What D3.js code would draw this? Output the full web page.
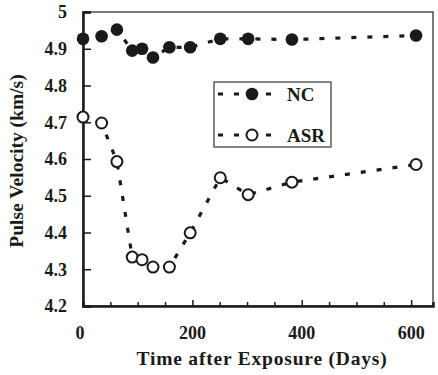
<!DOCTYPE html>
<html>
<head>
<meta charset="utf-8">
<script src="https://cdn.jsdelivr.net/npm/d3@7"></script>
<style>
  body { margin: 0; background: #fff; }
</style>
</head>
<body>
<div id="chart"></div>
<script>
// days after exposure, shared by both series
const days = [0, 34, 62, 90, 108, 128, 158, 196, 251, 302, 382, 609];
const ncValues = [4.927, 4.934, 4.952, 4.895, 4.900, 4.876, 4.904, 4.904, 4.927, 4.927, 4.925, 4.936];
const asrValues = [4.714, 4.698, 4.593, 4.333, 4.326, 4.306, 4.306, 4.399, 4.549, 4.503, 4.537, 4.585];
const xTickLabels = [0, 200, 400, 600];
const yTickLabels = [4.2, 4.3, 4.4, 4.5, 4.6, 4.7, 4.8, 4.9, 5];
const seriesNames = ["NC", "ASR"];

const width = 438, height = 375;
const margin = { top: 12, right: 5, bottom: 69, left: 83 };
const ink = "#1a1a1a";
const serif = "Liberation Serif, Times New Roman, serif";

const svg = d3.select("#chart").append("svg")
  .attr("width", width)
  .attr("height", height)
  .style("font-family", serif)
  .style("font-weight", "bold");

const x = d3.scaleLinear().domain([0, 640]).range([margin.left, width - margin.right]);
const y = d3.scaleLinear().domain([4.2, 5]).range([height - margin.bottom, margin.top]);

// frame: thin top/right, heavy left/bottom
svg.append("rect")
  .attr("x", x(0)).attr("y", y(5))
  .attr("width", x(640) - x(0)).attr("height", y(4.2) - y(5))
  .attr("fill", "none").attr("stroke", "#333").attr("stroke-width", 1.3);

// x axis, ticks every 50 pointing inward
const xAxis = d3.axisTop(x)
  .tickValues(d3.range(50, 640, 50))
  .tickSize(4)
  .tickFormat("");
svg.append("g")
  .attr("transform", `translate(0,${y(4.2)})`)
  .call(xAxis)
  .call(g => g.select(".domain").attr("stroke", ink).attr("stroke-width", 2.5))
  .call(g => g.selectAll(".tick line").attr("stroke", ink).attr("stroke-width", 1.5)
    .attr("y2", d => d % 200 === 0 ? -6 : -4));

// y axis, inward ticks
const yAxis = d3.axisRight(y)
  .tickValues(yTickLabels)
  .tickSize(8)
  .tickFormat("");
svg.append("g")
  .attr("transform", `translate(${x(0)},0)`)
  .call(yAxis)
  .call(g => g.select(".domain").attr("stroke", ink).attr("stroke-width", 2.5))
  .call(g => g.selectAll(".tick line").attr("stroke", ink).attr("stroke-width", 1.5));

// tick labels
svg.append("g").selectAll("text")
  .data(yTickLabels)
  .join("text")
  .attr("x", 67)
  .attr("y", d => y(d))
  .attr("dy", "0.35em")
  .attr("text-anchor", "end")
  .attr("font-size", 18)
  .attr("fill", ink)
  .text(d => d3.format("")(d));

svg.append("g").selectAll("text")
  .data(xTickLabels)
  .join("text")
  .attr("x", d => x(d) - (d === 0 ? 3 : 0))
  .attr("y", 339)
  .attr("text-anchor", "middle")
  .attr("font-size", 18)
  .attr("fill", ink)
  .text(d => d);

// axis titles
svg.append("text")
  .attr("x", 262)
  .attr("y", 365)
  .attr("text-anchor", "middle")
  .attr("font-size", 19.5)
  .attr("letter-spacing", 0.8)
  .attr("fill", ink)
  .text("Time after Exposure (Days)");

svg.append("text")
  .attr("transform", "translate(23,161) rotate(-90)")
  .attr("text-anchor", "middle")
  .attr("font-size", 19.5)
  .attr("fill", ink)
  .text("Pulse Velocity (km/s)");

// series
const series = [
  { name: seriesNames[0], values: ncValues, filled: true },
  { name: seriesNames[1], values: asrValues, filled: false }
];

const line = d3.line()
  .x(d => x(d[0]))
  .y(d => y(d[1]));

series.forEach(s => {
  const pts = days.map((d, i) => [d, s.values[i]]);
  svg.append("path")
    .datum(pts)
    .attr("d", line)
    .attr("fill", "none")
    .attr("stroke", ink)
    .attr("stroke-width", 3.2)
    .attr("stroke-dasharray", "5,11");
  svg.append("g").selectAll("circle")
    .data(pts)
    .join("circle")
    .attr("cx", d => x(d[0]))
    .attr("cy", d => y(d[1]))
    .attr("r", s.filled ? 6.3 : 5.5)
    .attr("fill", s.filled ? ink : "#fff")
    .attr("stroke", ink)
    .attr("stroke-width", s.filled ? 0 : 2);
});

// legend
const legend = svg.append("g").attr("transform", "translate(214,82)");
legend.append("rect")
  .attr("width", 117).attr("height", 65)
  .attr("fill", "#fff").attr("stroke", "#444").attr("stroke-width", 1.3);

series.forEach((s, i) => {
  const ly = 12 + i * 41;
  const row = legend.append("g").attr("transform", `translate(0,${ly})`);
  row.append("line")
    .attr("x1", 4).attr("x2", 62)
    .attr("stroke", ink).attr("stroke-width", 3.2)
    .attr("stroke-dasharray", "5,11");
  row.append("circle")
    .attr("cx", 38).attr("r", s.filled ? 6.3 : 5.5)
    .attr("fill", s.filled ? ink : "#fff")
    .attr("stroke", ink).attr("stroke-width", s.filled ? 0 : 2);
  row.append("text")
    .attr("x", 73).attr("dy", "0.35em")
    .attr("font-size", 19)
    .attr("fill", ink)
    .text(s.name);
});
</script>
</body>
</html>
